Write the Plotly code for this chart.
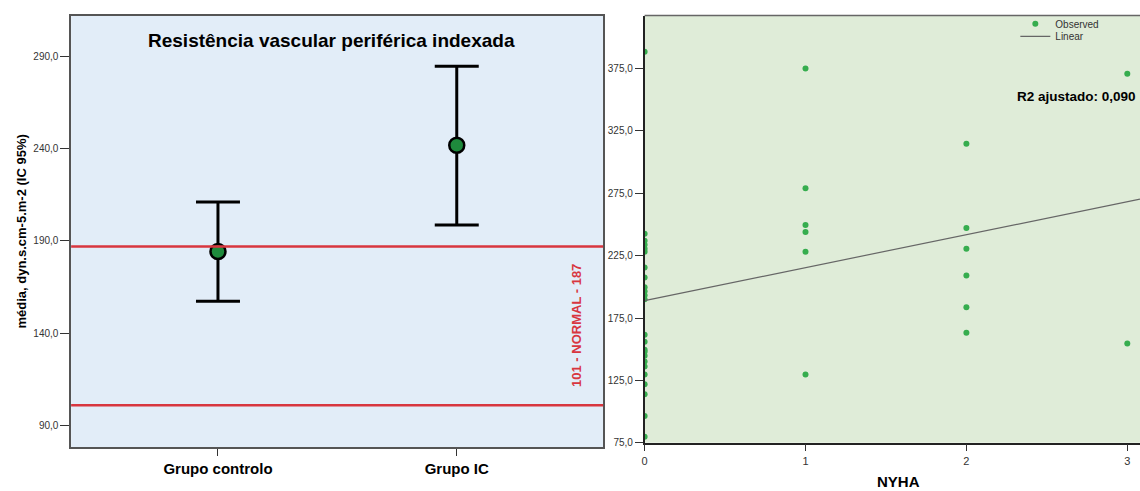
import plotly.graph_objects as go

# ---------------- data: left panel ----------------
groups = ["Grupo controlo", "Grupo IC"]
group_mean = [184.3, 241.8]
group_upper = [211.1, 284.6]
group_lower = [157.3, 198.6]
normal_low = 101
normal_high = 187
left_y_ticks = [90, 140, 190, 240, 290]
left_y_ticktext = ["90,0", "140,0", "190,0", "240,0", "290,0"]

# ---------------- data: right panel ----------------
nyha_x = [0] * 24 + [1] * 6 + [2] * 6 + [3] * 2
rvp_y = [388.5, 242.5, 236.9, 233.7, 230.6, 228.2, 215.5, 207.5, 199.6, 196.4,
         193.3, 190.1, 161.5, 156.0, 149.6, 148.0, 144.8, 140.1, 136.1, 129.8,
         121.8, 113.9, 96.4, 79.8,
         375.0, 279.0, 249.6, 244.0, 228.2, 129.8,
         314.7, 247.2, 230.6, 209.1, 183.7, 163.1,
         370.8, 154.6]
fit_intercept = 189.0
fit_slope = 26.4
right_y_ticks = [75, 125, 175, 225, 275, 325, 375]
right_y_ticktext = ["75,0", "125,0", "175,0", "225,0", "275,0", "325,0", "375,0"]
right_x_ticks = [0, 1, 2, 3]
right_x_range = [0, 3.079]

FONT = "Liberation Sans, Arial, sans-serif"

fig = go.Figure()

# left panel means + CI
fig.add_trace(go.Scatter(
    x=groups, y=group_mean, mode="markers", showlegend=False,
    marker=dict(size=15, color="#1e8a3c", line=dict(color="black", width=2.5)),
    error_y=dict(type="data", symmetric=False,
                 array=[u - m for u, m in zip(group_upper, group_mean)],
                 arrayminus=[m - l for m, l in zip(group_mean, group_lower)],
                 color="black", thickness=3, width=22),
    xaxis="x", yaxis="y", cliponaxis=False,
))

# right panel scatter
fig.add_trace(go.Scatter(
    x=nyha_x, y=rvp_y, mode="markers", name="Observed",
    marker=dict(size=6, color="#36ad4e"),
    xaxis="x2", yaxis="y2", legend="legend",
))
fig.add_trace(go.Scatter(
    x=right_x_range, y=[fit_intercept + fit_slope * v for v in right_x_range],
    mode="lines", name="Linear", line=dict(color="#666666", width=1.2),
    xaxis="x2", yaxis="y2", legend="legend2",
))

# reference lines
for v in (normal_low, normal_high):
    fig.add_shape(type="line", xref="x domain", yref="y", x0=0, x1=1, y0=v, y1=v,
                  line=dict(color="#d8363f", width=2.5))

# right panel top border
fig.add_shape(type="line", xref="paper", yref="paper", x0=643.3 / 1140, x1=1, y0=1 - 15.7 / 491,
              y1=1 - 15.7 / 491, line=dict(color="#666666", width=1.5), layer="above")

annotations = [
    dict(text="<b>Resistência vascular periférica indexada</b>", xref="paper", yref="paper",
         x=329 / 1140, y=1 - 41 / 491, xanchor="center", yanchor="middle", showarrow=False,
         font=dict(size=19, color="black", family=FONT)),
    dict(text="<b>média, dyn.s.cm-5.m-2 (IC 95%)</b>", xref="paper", yref="paper",
         x=19 / 1140, y=1 - 234 / 491, xanchor="center", yanchor="middle", textangle=-90,
         showarrow=False, font=dict(size=13, color="black", family=FONT)),
    dict(text="<b>101 - NORMAL - 187</b>", xref="x domain", yref="y", x=0.951,
         y=(normal_low + normal_high) / 2,
         xanchor="center", yanchor="middle", textangle=-90, showarrow=False,
         font=dict(size=13, color="#d8363f", family=FONT)),
    dict(text="<b>R2 ajustado: 0,090</b>", xref="paper", yref="paper", x=1138 / 1140, y=1 - 97 / 491,
         xanchor="right", yanchor="middle", showarrow=False,
         font=dict(size=13.5, color="black", family="Liberation Sans Narrow, Arial Narrow, Liberation Sans")),
    dict(text="<b>NYHA</b>", xref="paper", yref="paper", x=898 / 1140, y=1 - 486 / 491,
         xanchor="center", yanchor="middle", showarrow=False,
         font=dict(size=15, color="black", family=FONT)),
]

leg_common = dict(xanchor="left", yanchor="middle", bgcolor="rgba(0,0,0,0)",
                  font=dict(size=10, color="#333333", family=FONT), itemwidth=30)

fig.update_layout(
    width=1140, height=491, margin=dict(l=0, r=0, t=0, b=0),
    paper_bgcolor="white", plot_bgcolor="white",
    font=dict(family=FONT, color="#333333", size=10),
    annotations=annotations,
    showlegend=True,
    legend=dict(x=1015 / 1140, y=1 - 24 / 491, **leg_common),
    legend2=dict(x=1015 / 1140, y=1 - 36.7 / 491, **leg_common),
    xaxis=dict(domain=[68.3 / 1140, 601.7 / 1140], type="category", range=[-0.615, 1.613],
               showgrid=False, zeroline=False, showline=True, mirror=True,
               linecolor="#555555", linewidth=1.5, ticks="outside", ticklen=7, tickcolor="#333333",
               tickfont=dict(size=15, color="black", family=FONT), tickprefix="<b>", ticksuffix="</b>"),
    yaxis=dict(domain=[1 - 451.7 / 491, 1 - 15.7 / 491], range=[78.4, 312], anchor="x",
               showgrid=False, zeroline=False, showline=True, mirror=True,
               linecolor="#555555", linewidth=1.5, ticks="outside", ticklen=9, tickcolor="#333333",
               tickvals=left_y_ticks, ticktext=left_y_ticktext, tickfont=dict(size=10, color="#333333")),
    xaxis2=dict(domain=[643.3 / 1140, 1], range=right_x_range, anchor="y2",
                showgrid=False, zeroline=False, showline=True, linecolor="#222222", linewidth=1.5,
                ticks="outside", ticklen=7, tickcolor="#333333", tickvals=right_x_ticks,
                tickfont=dict(size=11, color="#333333")),
    yaxis2=dict(domain=[1 - 447.3 / 491, 1 - 15.7 / 491], range=[75, 417.5], anchor="x2",
                showgrid=False, zeroline=False, showline=True, linecolor="#222222", linewidth=1.5,
                ticks="outside", ticklen=8, tickcolor="#333333",
                tickvals=right_y_ticks, ticktext=right_y_ticktext, tickfont=dict(size=10, color="#333333")),
)

# plot backgrounds via shapes below traces
fig.add_shape(type="rect", xref="x domain", yref="y domain", x0=0, x1=1, y0=0, y1=1,
              fillcolor="#e2edf8", line=dict(width=0), layer="below")
fig.add_shape(type="rect", xref="x2 domain", yref="y2 domain", x0=0, x1=1, y0=0, y1=1,
              fillcolor="#dfecd8", line=dict(width=0), layer="below")

fig.write_html("out.html")
